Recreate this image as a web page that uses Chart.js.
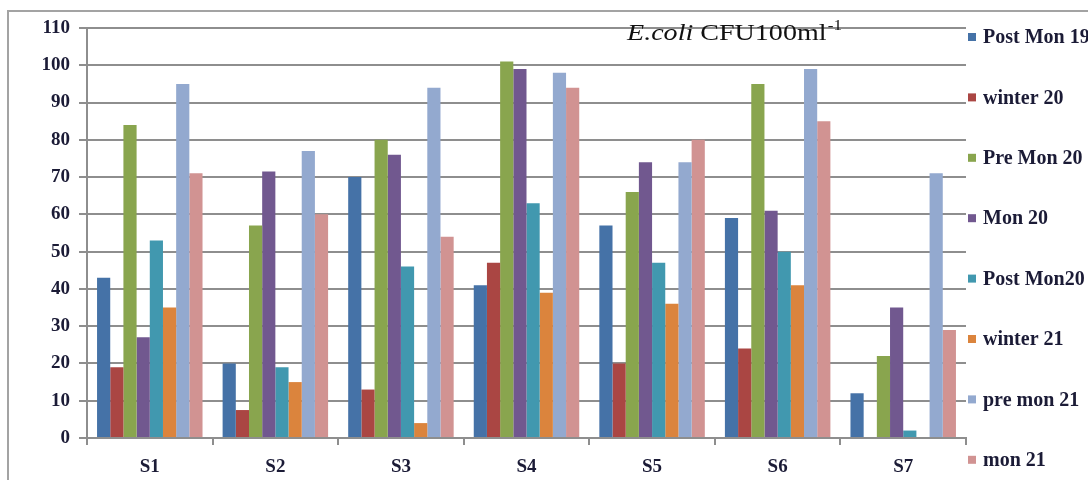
<!DOCTYPE html>
<html>
<head>
<meta charset="utf-8">
<script src="https://cdn.jsdelivr.net/npm/chart.js@4.4.1/dist/chart.umd.min.js"></script>
<style>
html, body { margin: 0; padding: 0; background: #fff; overflow: hidden; }
#wrap { position: relative; width: 1088px; height: 480px; }
#frame { position: absolute; left: 7px; top: 10px; width: 1200px; height: 600px; border: 2px solid #a3a3a3; }
canvas { position: absolute; left: 0; top: 0; }
</style>
</head>
<body>
<div id="wrap">
  <div id="frame"></div>
  <canvas id="barChart" width="1088" height="480"></canvas>
</div>
<script>
// sites and sampling seasons
const sites = ["S1", "S2", "S3", "S4", "S5", "S6", "S7"];
const seasons = ["Post Mon 19", "winter 20", "Pre Mon 20", "Mon 20", "Post Mon20", "winter 21", "pre mon 21", "mon 21"];
const colors = ['#4572A7', '#AA4643', '#89A54E', '#71588F', '#4198AF', '#DB843D', '#93A9CF', '#D19392'];

// E.coli CFU/100ml per season (S1..S7)
const postMon19 = [43, 20, 70, 41, 57, 59, 12];
const winter20  = [19, 7.5, 13, 47, 20, 24, 0];
const preMon20  = [84, 57, 80, 101, 66, 95, 22];
const mon20     = [27, 71.5, 76, 99, 74, 61, 35];
const postMon20 = [53, 19, 46, 63, 47, 50, 2];
const winter21  = [35, 15, 4, 39, 36, 41, 0];
const preMon21  = [95, 77, 94, 98, 74, 99, 71];
const mon21     = [71, 60, 54, 94, 80, 85, 29];

const seriesValues = [postMon19, winter20, preMon20, mon20, postMon20, winter21, preMon21, mon21];

const yMin = 0;
const yMax = 110;
const yStep = 10;

const labelFont = '"Liberation Serif", "Times New Roman", serif';
const textColor = '#1b1b36';
const gridColor = '#8e8e8e';

// title "E.coli CFU100ml-1" drawn over the plot (text is a bit stretched in the original)
const titlePlugin = {
    id: 'titlePlugin',
    afterDraw(chart) {
        const c = chart.ctx;
        c.save();
        c.translate(627, 40);
        c.scale(1.22, 1);
        c.fillStyle = '#111';
        c.textBaseline = 'alphabetic';
        let x = 0;
        c.font = 'italic 23px ' + labelFont;
        c.fillText('E.coli', x, 0);
        x += c.measureText('E.coli ').width;
        c.font = '23px ' + labelFont;
        c.fillText('CFU100ml', x, 0);
        x += c.measureText('CFU100ml').width;
        c.font = '14px ' + labelFont;
        c.fillText('-1', x + 1, -10);
        c.restore();
    }
};

// legend on the right, one entry per row
const legendPlugin = {
    id: 'sideLegend',
    afterDraw(chart) {
        const c = chart.ctx;
        c.save();
        c.font = 'bold 20px ' + labelFont;
        c.textBaseline = 'middle';
        chart.data.datasets.forEach((ds, i) => {
            const yc = 37 + i * 60.4;
            c.fillStyle = ds.backgroundColor;
            c.fillRect(968, yc - 4, 8, 8);
            c.fillStyle = textColor;
            c.fillText(ds.label, 983, yc + 1);
        });
        c.restore();
    }
};

document.addEventListener("DOMContentLoaded", function() {
    const ctx = document.getElementById('barChart').getContext('2d');
    new Chart(ctx, {
        type: 'bar',
        data: {
            labels: sites,
            datasets: seasons.map((name, i) => ({
                label: name,
                data: seriesValues[i],
                backgroundColor: colors[i],
                borderWidth: 0,
                barPercentage: 1,
                categoryPercentage: 0.84
            }))
        },
        options: {
            responsive: false,
            animation: false,
            devicePixelRatio: 1,
            layout: {
                padding: { left: 0, right: 122, top: 28, bottom: 0 }
            },
            scales: {
                x: {
                    grid: {
                        drawOnChartArea: false,
                        offset: true,
                        color: gridColor,
                        lineWidth: 2,
                        tickLength: 7
                    },
                    border: { color: gridColor, width: 2 },
                    ticks: {
                        color: textColor,
                        font: { family: labelFont, size: 19, weight: 'bold' },
                        padding: 11
                    },
                    afterFit: function(scale) { scale.height = 42; }
                },
                y: {
                    min: yMin,
                    max: yMax,
                    ticks: {
                        stepSize: yStep,
                        color: textColor,
                        font: { family: labelFont, size: 19, weight: 'bold' },
                        padding: 9
                    },
                    grid: {
                        color: gridColor,
                        lineWidth: 2,
                        tickLength: 8
                    },
                    border: { color: gridColor, width: 2 },
                    afterFit: function(scale) { scale.width = 87; }
                }
            },
            plugins: {
                legend: { display: false },
                tooltip: { enabled: false }
            }
        },
        plugins: [titlePlugin, legendPlugin]
    });
});
</script>
</body>
</html>
